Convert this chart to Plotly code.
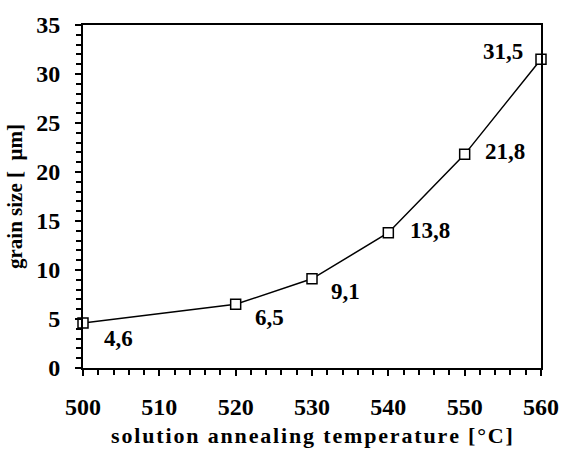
import plotly.graph_objects as go

temps = [500, 520, 530, 540, 550, 560]
grain = [4.6, 6.5, 9.1, 13.8, 21.8, 31.5]
labels = ["4,6", "6,5", "9,1", "13,8", "21,8", "31,5"]
# label offsets in pixels (x right, y up)
offx = [35, 34, 33, 42, 40, -38]
offy = [-16, -13, -13, 2, 3, 8]

FONT = "Liberation Serif"

fig = go.Figure()
fig.add_trace(go.Scatter(
    x=temps, y=grain, mode="lines+markers",
    line=dict(color="black", width=1.5),
    marker=dict(symbol="square", size=10, color="white",
                line=dict(color="black", width=1.5)),
    cliponaxis=False, showlegend=False,
))

for t, g, lab, dx, dy in zip(temps, grain, labels, offx, offy):
    fig.add_annotation(x=t, y=g, text=f"<b>{lab}</b>", showarrow=False,
                       xshift=dx, yshift=dy,
                       font=dict(family=FONT, size=23, color="black"))

def spaced(s):
    return "\u200a".join(list(s))

fig.update_layout(
    width=571, height=456,
    margin=dict(l=83, r=19, t=19, b=78),
    paper_bgcolor="white", plot_bgcolor="white",
    font=dict(family=FONT, color="black"),
    xaxis=dict(
        range=[500, 560], tickvals=[500, 510, 520, 530, 540, 550, 560],
        ticks="outside", ticklen=6, tickwidth=2, tickcolor="black",
        minor=dict(dtick=2, ticks="outside", ticklen=5, tickwidth=2, tickcolor="black"),
        showline=True, linewidth=2, linecolor="black", mirror=True,
        showgrid=False, zeroline=False, ticklabelstandoff=10,
        tickfont=dict(family=FONT, size=24, color="black", weight="bold"),
        title=dict(text="<b>" + spaced("solution annealing temperature [°C]") + "</b>",
                   font=dict(family=FONT, size=22, color="black"), standoff=9),
    ),
    yaxis=dict(
        range=[0, 35], tickvals=[0, 5, 10, 15, 20, 25, 30, 35],
        ticks="outside", ticklen=6, tickwidth=2, tickcolor="black",
        minor=dict(dtick=1, ticks="outside", ticklen=5, tickwidth=2, tickcolor="black"),
        showline=True, linewidth=2, linecolor="black", mirror=True,
        showgrid=False, zeroline=False, ticklabelstandoff=10,
        tickfont=dict(family=FONT, size=24, color="black", weight="bold"),
        title=dict(text="<b>grain size [  µm]</b>",
                   font=dict(family=FONT, size=21, color="black"), standoff=8),
    ),
)

fig.write_html("out.html")
